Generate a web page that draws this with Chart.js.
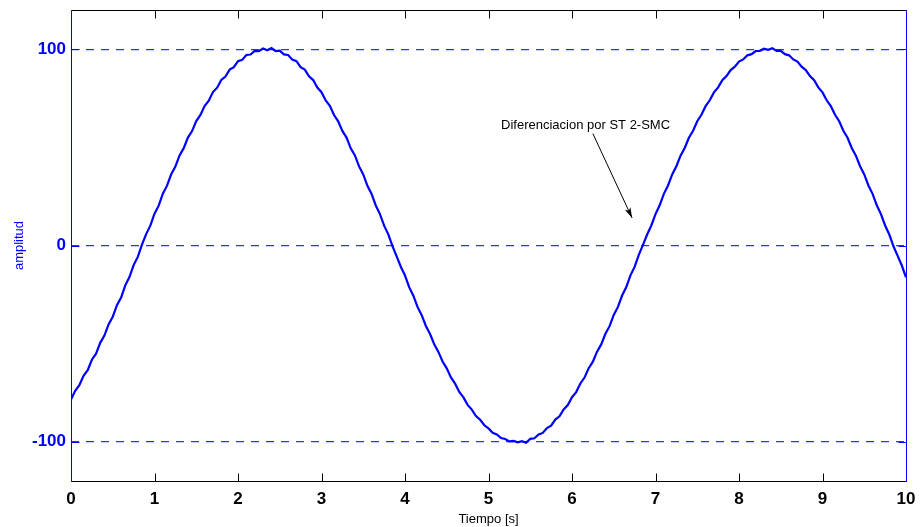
<!DOCTYPE html>
<html lang="es">
  <head>
    <meta charset="UTF-8" />
    <title>Diferenciacion por ST 2-SMC</title>
    <script src="https://cdn.jsdelivr.net/npm/chart.js@4.4.0/dist/chart.umd.min.js"></script>
    <style>
      body { margin: 0; background: #fff; }
      #wrap { width: 920px; height: 527px; }
    </style>
  </head>
  <body>
    <div id="wrap"><canvas id="chart" width="920" height="527"></canvas></div>
    <script>
      // sample spacing of the recorded signal (s)
      const timeStep = 0.05;
      // amplitud, t = 0 .. 10 s
      const amplitud = [
        -78.5, -74.0, -71.2, -66.4, -63.5, -58.2, -55.1, -49.6, -45.9, -40.2, -36.3, -30.4, -26.5, -20.3, -16.1, -10.0, -5.8,
        0.4,
        5.8, 10.1, 16.2, 20.3, 26.4, 30.5, 36.3, 40.2, 45.9, 49.6, 55.0, 58.3, 63.4, 66.5, 71.1, 73.8, 78.2, 80.4, 84.4, 86.1,
        89.6, 90.9, 93.9, 94.6, 97.1, 97.3, 99.2, 99.0, 100.4, 99.5, 100.6, 99.1, 99.3, 97.4, 97.1, 94.7, 93.9, 90.9, 89.6,
        86.2, 84.3, 80.5, 78.1, 73.9, 71.2, 66.5, 63.3, 58.4, 55.0, 49.5, 45.9, 40.3, 36.2, 30.4, 26.3, 20.4, 16.0, 10.1, 5.7,
        -0.3,
        -5.5, -10.8, -15.3, -21.2, -25.6, -31.3, -35.5, -41.0, -45.1, -50.3, -54.2, -59.1, -62.6, -67.2, -70.4, -74.6, -77.4,
        -81.2, -83.6, -86.9, -88.8, -91.6, -93.2, -95.4, -96.3, -98.1, -98.6, -99.8, -99.6, -100.3, -99.7, -100.5, -98.5,
        -98.2, -96.3, -95.5, -93.0, -91.8, -88.7, -87.0, -83.5, -81.3, -77.3, -74.7, -70.3, -67.3, -62.5, -59.2, -54.1,
        -50.4, -45.0, -41.1, -35.4, -31.3, -25.5, -21.2, -15.2, -10.9, -4.8,
        0.3,
        5.6, 10.2, 16.0, 20.5, 26.3, 30.6, 36.2, 40.4, 45.8, 49.7, 54.9, 58.5, 63.3, 66.6, 71.0, 74.0, 78.0, 80.6, 84.2, 86.3,
        89.4, 91.1, 93.7, 94.8, 96.9, 97.5, 99.1, 99.2, 100.3, 99.7, 100.5, 99.2, 99.2, 97.5, 96.9, 94.8, 93.7, 91.1, 89.4,
        86.3, 84.2, 80.6, 78.0, 74.0, 71.0, 66.6, 63.3, 58.5, 54.9, 49.7, 45.8, 40.4, 36.2, 30.6, 26.3, 20.5, 16.0, 10.2, 5.6,
        -0.4,
        -5.3, -10.2, -16.2
      ];
      const xTicks = [0, 1, 2, 3, 4, 5, 6, 7, 8, 9, 10];
      const yTicks = [-100, 0, 100];
      const noteText = "Diferenciacion por ST 2-SMC";
      const notePos = { x: 5.15, y: 61 };
      const arrowFrom = { x: 6.25, y: 57 };
      const arrowTo = { x: 6.72, y: 14 };

      const points = amplitud.map((v, i) => ({ x: i * timeStep, y: v }));

      // box around the axes with inward tick marks, like the original figure
      const framePlugin = {
        id: "frame",
        afterDatasetsDraw(chart) {
          const { ctx, chartArea: a, scales } = chart;
          const L = Math.round(a.left) + 0.5, R = Math.round(a.right) + 0.5;
          const T = Math.round(a.top) + 0.5, B = Math.round(a.bottom) + 0.5;
          ctx.save();
          ctx.lineWidth = 1;
          ctx.strokeStyle = "#000";
          ctx.beginPath();
          ctx.moveTo(L, T); ctx.lineTo(R, T);
          ctx.moveTo(L, B); ctx.lineTo(R, B);
          xTicks.forEach((t) => {
            const px = Math.round(scales.x.getPixelForValue(t)) + 0.5;
            ctx.moveTo(px, B); ctx.lineTo(px, B - 8);
            ctx.moveTo(px, T); ctx.lineTo(px, T + 8);
          });
          ctx.stroke();
          ctx.strokeStyle = "#0000ff";
          ctx.beginPath();
          ctx.moveTo(L, T); ctx.lineTo(L, B);
          ctx.moveTo(R, T); ctx.lineTo(R, B);
          yTicks.forEach((t) => {
            const py = Math.round(scales.y.getPixelForValue(t)) + 0.5;
            ctx.moveTo(L, py); ctx.lineTo(L + 8, py);
            ctx.moveTo(R, py); ctx.lineTo(R - 8, py);
          });
          ctx.stroke();

          // text arrow annotation
          const x1 = scales.x.getPixelForValue(arrowFrom.x), y1 = scales.y.getPixelForValue(arrowFrom.y);
          const x2 = scales.x.getPixelForValue(arrowTo.x), y2 = scales.y.getPixelForValue(arrowTo.y);
          const ang = Math.atan2(y2 - y1, x2 - x1);
          ctx.strokeStyle = "#000";
          ctx.fillStyle = "#000";
          ctx.beginPath();
          ctx.moveTo(x1, y1); ctx.lineTo(x2, y2);
          ctx.stroke();
          ctx.beginPath();
          ctx.moveTo(x2, y2);
          ctx.lineTo(x2 - 11 * Math.cos(ang - 0.28), y2 - 11 * Math.sin(ang - 0.28));
          ctx.lineTo(x2 - 8 * Math.cos(ang), y2 - 8 * Math.sin(ang));
          ctx.lineTo(x2 - 11 * Math.cos(ang + 0.28), y2 - 11 * Math.sin(ang + 0.28));
          ctx.closePath();
          ctx.fill();
          ctx.font = '13px "Liberation Sans", Arial, sans-serif';
          ctx.textAlign = "left";
          ctx.textBaseline = "middle";
          ctx.fillText(noteText, scales.x.getPixelForValue(notePos.x), scales.y.getPixelForValue(notePos.y));
          ctx.restore();
        },
      };

      const ctx = document.getElementById("chart").getContext("2d");
      const myChart = new Chart(ctx, {
        type: "line",
        data: {
          datasets: [
            {
              label: "amplitud",
              data: points,
              borderColor: "#0000ff",
              borderWidth: 2.2,
              pointRadius: 0,
              tension: 0,
              fill: false,
            },
          ],
        },
        options: {
          responsive: false,
          animation: false,
          layout: { padding: { top: 10, right: 14, left: 0, bottom: 0 } },
          plugins: { legend: { display: false }, tooltip: { enabled: false } },
          scales: {
            x: {
              type: "linear",
              min: 0,
              max: 10,
              afterBuildTicks: (scale) => { scale.ticks = xTicks.map((v) => ({ value: v })); },
              afterFit: (scale) => {
                scale.height = 46;
                scale.paddingLeft = 0;
                scale.paddingRight = 0;
              },
              ticks: {
                color: "#000",
                padding: 0,
                font: { family: '"Liberation Sans", Arial, sans-serif', size: 17, weight: "bold" },
              },
              grid: { display: false },
              border: { display: false },
              title: {
                display: true,
                text: "Tiempo [s]",
                color: "#000",
                padding: { top: 0, bottom: 0 },
                font: { family: '"Liberation Sans", Arial, sans-serif', size: 13 },
              },
            },
            y: {
              min: -120,
              max: 120,
              afterBuildTicks: (scale) => { scale.ticks = yTicks.map((v) => ({ value: v })); },
              afterFit: (scale) => {
                scale.width = 71;
                scale.paddingTop = 0;
                scale.paddingBottom = 0;
              },
              ticks: {
                color: "#0000ff",
                padding: 5,
                font: { family: '"Liberation Sans", Arial, sans-serif', size: 17, weight: "bold" },
              },
              grid: { color: "#3030ff", lineWidth: 1.3, drawTicks: false },
              border: { display: false, dash: [8, 7] },
              title: {
                display: true,
                text: "amplitud",
                color: "#0000ff",
                padding: { top: 12, bottom: 0 },
                font: { family: '"Liberation Sans", Arial, sans-serif', size: 13 },
              },
            },
          },
        },
        plugins: [framePlugin],
      });
    </script>
  </body>
</html>
